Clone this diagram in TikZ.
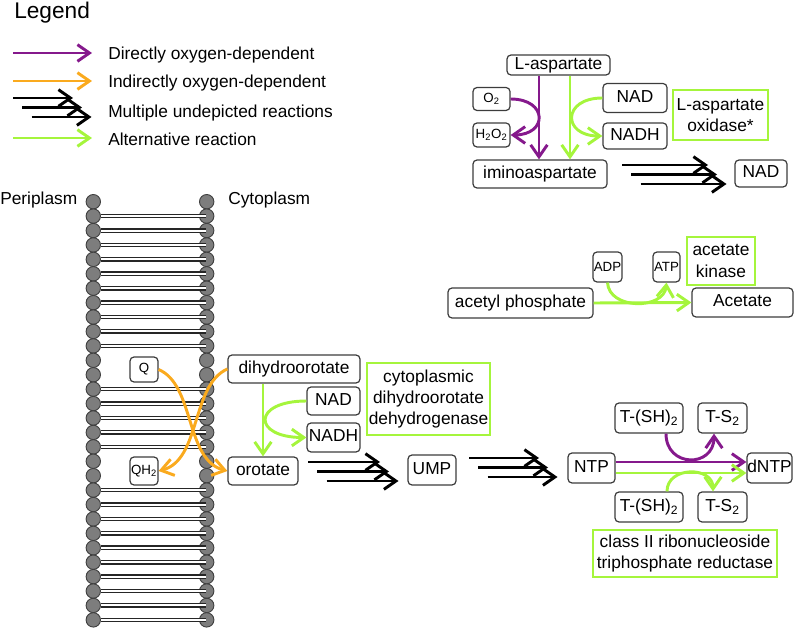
\documentclass[tikz,border=0pt]{standalone}
\usepackage{fontspec}
\setmainfont{Liberation Sans}
\usetikzlibrary{arrows.meta,calc}
\definecolor{purp}{RGB}{133,25,140}
\definecolor{oran}{RGB}{250,170,30}
\definecolor{grn}{RGB}{165,245,60}
\definecolor{boxc}{RGB}{60,60,60}
\definecolor{memc}{RGB}{125,125,125}
\newcommand\fs{\fontsize{13}{16}\selectfont}
\newcommand\triplearr[4]{%
  \foreach \kk/\dx/\dy in {0/0/0, 1/9/9.5, 2/18.5/19} {
    \coordinate (#1s\kk) at (#2+\dx, #3+\dy);
    \coordinate (#1e\kk) at (#2+\dx+#4, #3+\dy);
    \draw[karr] (#1s\kk) -- (#1e\kk);
  }%
}
\begin{document}
\begin{tikzpicture}[x=0.75pt,y=-0.75pt,
  box/.style={draw=boxc, line width=0.9pt, rounded corners=3pt, fill=white, inner sep=0pt, font=\fs, text height=9.5pt, text depth=2.8pt},
  smallbox/.style={draw=boxc, line width=0.9pt, rounded corners=3pt, fill=white, inner sep=0pt, font=\fontsize{#1}{#1}\selectfont},
  gbox/.style={draw=grn, line width=1.1pt, fill=white, inner sep=0pt, align=center, font=\fs},
  sz/.style 2 args={minimum width={#1*0.75pt}, minimum height={#2*0.75pt}},
  arr/.style={line width=2.2pt, -{Straight Barb[length=9pt,width=12.5pt]}},
  parr/.style={arr, draw=purp},
  oarr/.style={arr, draw=oran},
  garr/.style={arr, draw=grn},
  karr/.style={arr, draw=black},
  lab/.style={anchor=base west, font=\fs, inner sep=0pt},
  tail/.style={draw=black!85, line width=1pt, double=white, double distance=1.5pt}
]
\useasboundingbox (0,0) rectangle (797,631);

% ---------- Legend ----------
\node[anchor=base west, inner sep=0pt, font=\fontsize{17}{20}\selectfont] (legt) at (14,19) {Legend};
\coordinate (l1s) at (13,53); \coordinate (l1e) at (92,53);
\coordinate (l2s) at (13,81); \coordinate (l2e) at (92,81);
\coordinate (l4s) at (13,138); \coordinate (l4e) at (92,138);
\draw[parr] (l1s) -- (l1e);
\draw[oarr] (l2s) -- (l2e);
\triplearr{lt}{13}{98}{60}
\draw[garr] (l4s) -- (l4e);
\node[lab] (t1) at (108,60) {Directly oxygen-dependent};
\node[lab] (t2) at (108,87.5) {Indirectly oxygen-dependent};
\node[lab] (t3) at (108,117.5) {Multiple undepicted reactions};
\node[lab] (t4) at (108,146) {Alternative reaction};

% ---------- Membrane ----------
\node[anchor=west, font=\fs, inner sep=0pt] (peri) at (0,200) {Periplasm};
\node[anchor=west, font=\fs, inner sep=0pt] (cyto) at (228,200) {Cytoplasm};
\foreach \i in {0,...,29} {
  \pgfmathsetmacro\yy{201.7+14.42*\i}
  \fill[memc, draw=black!75, line width=0.7pt] (93.3,\yy) circle[radius=5.4pt];
  \fill[memc, draw=black!75, line width=0.7pt] (206.7,\yy) circle[radius=5.4pt];
}
\foreach \i in {1,2,3,4,5,6,7,8,9,10,13,14,15,16,17,20,21,22,23,24,25,26,27,28,29} {
  \pgfmathsetmacro\yy{201.7+14.42*\i}
  \draw[tail] (100.8,\yy) -- (206,\yy);
}

% ---------- L-aspartate ----------
\node[box, sz={103}{20}] (lasp) at (558.5,65) {L-aspartate};
\node[smallbox=10, sz={37}{23}] (o2) at (491.5,99) {O\textsubscript{2}};
\node[smallbox=10, sz={37}{24}] (h2o2) at (491.5,135) {H\textsubscript{2}O\textsubscript{2}};
\node[box, sz={64}{29}] (nad1) at (635,98) {NAD};
\node[box, sz={64}{26}] (nadh1) at (635,136) {NADH};
\node[gbox, sz={95}{50}] (lao) at (720.5,115) {L-aspartate\\oxidase*};
\node[box, sz={134}{28}] (imino) at (540,174) {iminoaspartate};
\node[box, sz={52}{27}] (nad2) at (761,173.5) {NAD};
\draw[parr] ($(lasp.south)+(-19.5,0)$) -- ($(imino.north)+(-1,0)$);
\draw[garr] ($(lasp.south)+(11.5,0)$) -- ($(imino.north)+(30,0)$);
\draw[parr] (o2.east) .. controls (548,99) and (548,135) .. (h2o2.east);
\draw[garr] (nad1.west) .. controls (562,98) and (562,136) .. (nadh1.west);
\triplearr{ta}{622}{165}{86}

% ---------- Acetate ----------
\node[box, sz={145}{30}] (acp) at (520.5,303) {acetyl phosphate};
\node[box, sz={101}{29}] (acet) at (742.5,302.5) {Acetate};
\node[smallbox=10, sz={29}{30}] (adp) at (607.5,267) {ADP};
\node[smallbox=10, sz={27}{30}] (atp) at (666.5,267) {ATP};
\node[gbox, sz={68}{48}] (ak) at (721,261) {acetate\\kinase};
\draw[garr] (acp.east) -- (acet.west);
\draw[garr] (adp.south) .. controls (609,310) and (664,310) .. (atp.south);

% ---------- Dihydroorotate ----------
\node[smallbox=10, sz={28}{25}] (q) at (144,369.5) {Q};
\node[smallbox=10, sz={28}{28}] (qh2) at (144,471) {QH\textsubscript{2}};
\node[box, sz={132}{28}] (dho) at (294,369) {dihydroorotate};
\node[box, sz={53}{28}] (nad3) at (333.5,401) {NAD};
\node[box, sz={53}{29}] (nadh3) at (333.5,437.5) {NADH};
\node[gbox, sz={123}{72}] (cddh) at (428.5,399) {cytoplasmic\\dihydroorotate\\dehydrogenase};
\node[box, sz={70}{28}] (orot) at (263,471) {orotate};
\draw[garr] (dho.south -| orot.north) -- (orot.north);
\draw[garr] (nad3.west) .. controls (252,401) and (252,437.5) .. (nadh3.west);
\draw[oarr] (q.east) .. controls (195,385) and (185,460) .. (orot.west);
\draw[oarr] (dho.west) .. controls (191,385) and (201,460) .. (qh2.east);

% ---------- UMP / NTP ----------
\triplearr{tb}{308}{462}{72}
\node[box, sz={48}{30}] (ump) at (432,470) {UMP};
\triplearr{tc}{469}{458}{70}
\node[box, sz={47}{30}] (ntp) at (591.5,468) {NTP};
\node[box, sz={45}{30}] (dntp) at (769.5,468) {dNTP};
\node[box, sz={68}{30}] (tsh1) at (649,418) {T-(SH)\textsubscript{2}};
\node[box, sz={49}{30}] (ts1) at (722.5,418) {T-S\textsubscript{2}};
\node[box, sz={68}{30}] (tsh2) at (649,507) {T-(SH)\textsubscript{2}};
\node[box, sz={49}{30}] (ts2) at (722.5,507) {T-S\textsubscript{2}};
\node[gbox, sz={184}{47}] (rnr) at (685,553.5) {class II ribonucleoside\\triphosphate reductase};
\draw[parr] ($(ntp.east)+(0,-6)$) -- ($(dntp.west)+(0,-6)$);
\draw[garr] ($(ntp.east)+(0,5)$) -- ($(dntp.west)+(0,5)$);
\draw[parr] ($(tsh1.south)+(17,0)$) .. controls (666,468) and (714,468) .. ($(ts1.south)+(-8.5,0)$);
\draw[garr] ($(tsh2.north)+(18,0)$) .. controls (667,466) and (713,466) .. ($(ts2.north)+(-9.5,0)$);
\end{tikzpicture}
\end{document}
